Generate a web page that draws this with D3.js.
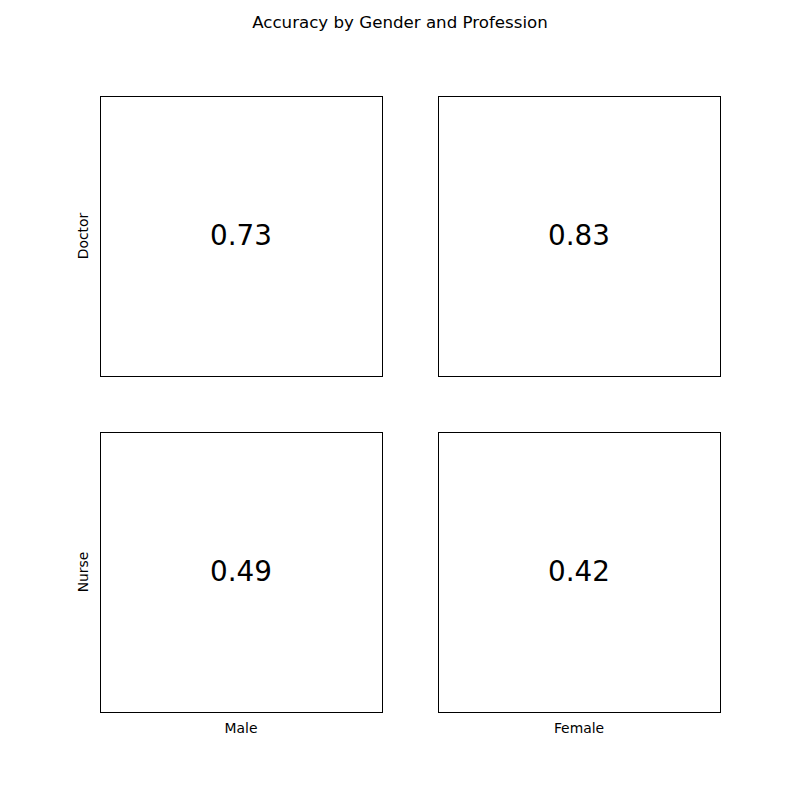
<!DOCTYPE html>
<html><head><meta charset="utf-8">
<script src="https://cdn.jsdelivr.net/npm/d3@7"></script>
<style>body{margin:0;background:#fff;} text{font-family:"DejaVu Sans",sans-serif;}</style>
</head><body>
<script>
const genders = ["Male", "Female"];
const professions = ["Doctor", "Nurse"];
const accuracy = [
  [0.73, 0.83],
  [0.49, 0.42]
];
const title = "Accuracy by Gender and Profession";

const W = 800, H = 800;
const svg = d3.select("body").append("svg").attr("width", W).attr("height", H);

const x = d3.scaleBand().domain(genders).range([100, 720]).paddingInner(56/338);
const y = d3.scaleBand().domain(professions).range([96, 712]).paddingInner(56/336);

svg.append("text").attr("x", 400).attr("y", 22).attr("text-anchor", "middle")
  .attr("dominant-baseline", "central").attr("font-size", 16.67).text(title);

professions.forEach((p, i) => {
  genders.forEach((g, j) => {
    const x0 = x(g), y0 = y(p);
    svg.append("rect").attr("x", x0 + 0.5).attr("y", y0 + 0.5)
      .attr("width", x.bandwidth()).attr("height", y.bandwidth())
      .attr("fill", "none").attr("stroke", "#000").attr("stroke-width", 1);
    svg.append("text").attr("x", x0 + x.bandwidth()/2).attr("y", y0 + y.bandwidth()/2 - 1)
      .attr("text-anchor", "middle").attr("dominant-baseline", "central")
      .attr("font-size", 27.8).text(accuracy[i][j].toFixed(2));
  });
  const cy = y(p) + y.bandwidth()/2;
  svg.append("text").attr("transform", `translate(83,${cy}) rotate(-90)`)
    .attr("text-anchor", "middle").attr("dominant-baseline", "central")
    .attr("font-size", 13.9).text(p);
});
genders.forEach(g => {
  svg.append("text").attr("x", x(g) + x.bandwidth()/2).attr("y", 728)
    .attr("text-anchor", "middle").attr("dominant-baseline", "central")
    .attr("font-size", 13.9).text(g);
});
</script>
</body></html>
